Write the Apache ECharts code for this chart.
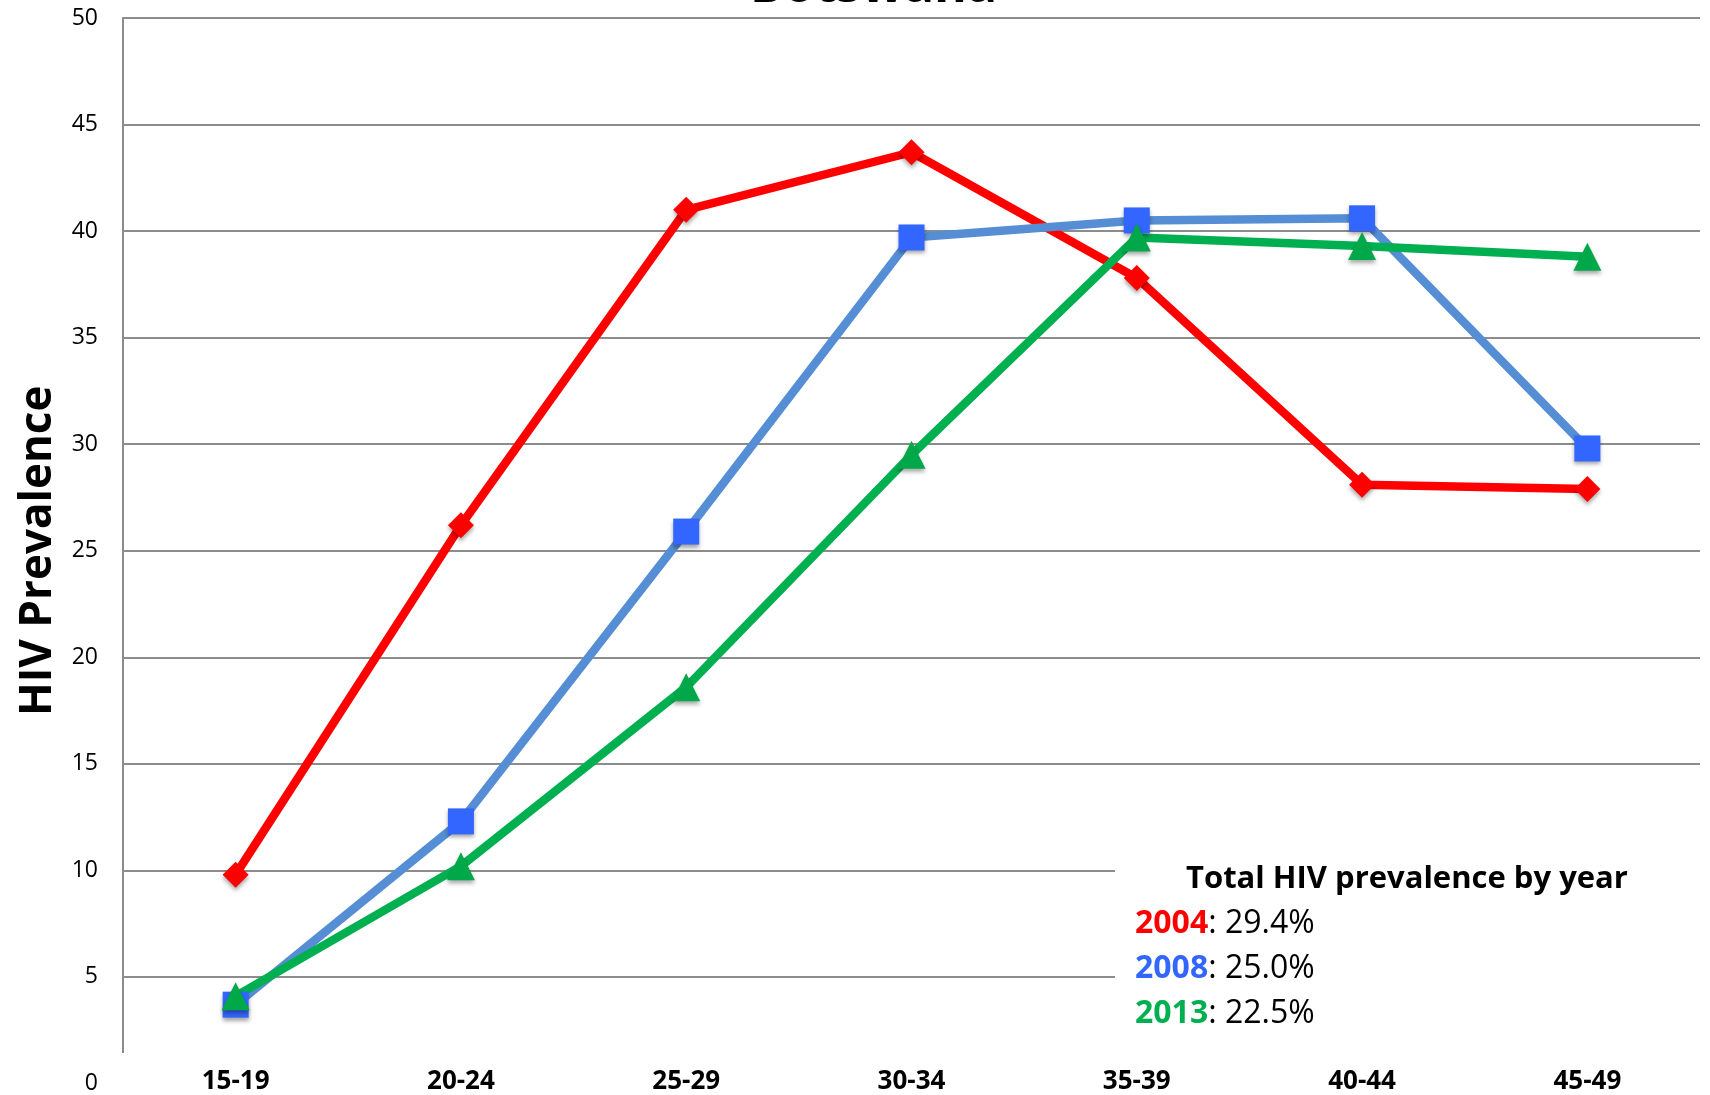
<!DOCTYPE html>
<html>
<head>
<meta charset="utf-8">
<title>Botswana HIV prevalence</title>
<script src="https://cdn.jsdelivr.net/npm/echarts@6/dist/echarts.min.js"></script>
<style>
  html, body { margin: 0; padding: 0; background: #fff; }
  #chart { width: 1710px; height: 1095px; }
</style>
</head>
<body>
<div id="chart"></div>
<script>
// age groups on the x axis
var ageGroups = ['15-19', '20-24', '25-29', '30-34', '35-39', '40-44', '45-49'];
// prevalence by age group, one list per survey year
var prev2004 = [9.8, 26.2, 41.0, 43.7, 37.8, 28.1, 27.9];
var prev2008 = [3.7, 12.3, 25.9, 39.7, 40.5, 40.6, 29.8];
var prev2013 = [4.1, 10.2, 18.6, 29.5, 39.7, 39.3, 38.8];
// total prevalence box
var totalYears = ['2004', '2008', '2013'];
var totalPrev = ['29.4%', '25.0%', '22.5%'];

var FONT = '"Open Sans", "DejaVu Sans", sans-serif';
var markerShadow = {
    shadowBlur: 4,
    shadowColor: 'rgba(0,0,0,0.35)',
    shadowOffsetY: 3
};

var chart = echarts.init(document.getElementById('chart'));

// little helper so every year line looks the same
function yearSeries (name, data, lineColor, markColor, symbol, size) {
    return {
        name: name,
        type: 'line',
        data: data,
        symbol: symbol,
        symbolSize: size,
        z: 2,
        lineStyle: { color: lineColor, width: 8.5 },
        itemStyle: Object.assign({ color: markColor }, markerShadow),
        emphasis: { disabled: true },
        animation: false
    };
}

var legendKeys = ['r', 'b', 'g'];
var legendLines = totalYears.map(function (y, i) {
    return {
        type: 'text',
        left: 1135,
        top: 908 + i * 45,
        z: 5,
        style: {
            text: '{' + legendKeys[i] + '|' + y + '}{t|: ' + totalPrev[i] + '}',
            rich: {
                r: { fill: '#FF0000', fontWeight: 'bold', fontSize: 32, fontFamily: FONT },
                b: { fill: '#3366FF', fontWeight: 'bold', fontSize: 32, fontFamily: FONT },
                g: { fill: '#00B050', fontWeight: 'bold', fontSize: 32, fontFamily: FONT },
                t: { fill: '#000', fontSize: 32, fontFamily: FONT }
            }
        }
    };
});

chart.setOption({
    backgroundColor: '#fff',
    animation: false,
    title: {
        text: 'Botswana',
        left: 745,
        top: -42,
        textStyle: { fontFamily: FONT, fontWeight: 'bold', fontSize: 50, color: '#000' }
    },
    grid: { left: 123, right: 10, top: 18, bottom: 11 },
    xAxis: {
        type: 'category',
        data: ageGroups,
        z: 3,
        axisLine: { show: false },
        axisTick: { show: false },
        axisLabel: {
            margin: -2,
            verticalAlign: 'middle',
            color: '#000',
            fontFamily: FONT,
            fontWeight: 'bold',
            fontSize: 26
        }
    },
    yAxis: {
        type: 'value',
        min: 0,
        max: 50,
        interval: 5,
        name: 'HIV Prevalence',
        nameLocation: 'middle',
        nameGap: 62,
        nameTextStyle: { fontFamily: FONT, fontWeight: 'bold', fontSize: 44, color: '#000' },
        axisLine: { show: true, lineStyle: { color: '#8c8c8c', width: 2 } },
        axisTick: { show: false },
        axisLabel: { margin: 25, color: '#000', fontFamily: FONT, fontSize: 23 },
        splitLine: { lineStyle: { color: '#8c8c8c', width: 2 } }
    },
    graphic: [
        // white panels that hide the grid under the totals box and the bottom edge
        { type: 'rect', left: 1115, top: 830, z: 1, shape: { width: 600, height: 270 }, style: { fill: '#fff' } },
        { type: 'rect', left: 118, top: 1053, z: 1, shape: { width: 1600, height: 50 }, style: { fill: '#fff' } },
        {
            type: 'text',
            left: 1186,
            top: 864,
            z: 5,
            style: { text: 'Total HIV prevalence by year', fill: '#000', fontFamily: FONT, fontWeight: 'bold', fontSize: 31 }
        }
    ].concat(legendLines),
    series: [
        yearSeries('2004', prev2004, '#FF0000', '#FF0000', 'diamond', [26, 26]),
        yearSeries('2008', prev2008, '#558ED5', '#3366FF', 'rect', 26),
        yearSeries('2013', prev2013, '#00B050', '#00A84A', 'triangle', 28)
    ]
});

window.addEventListener('resize', function () {
    chart.resize();
});
</script>
</body>
</html>
